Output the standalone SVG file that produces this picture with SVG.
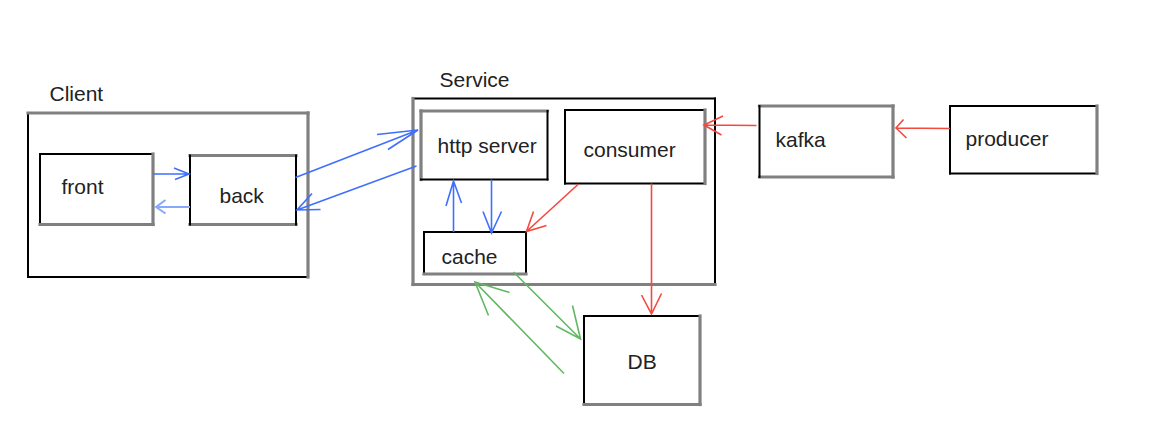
<svg xmlns="http://www.w3.org/2000/svg" width="1162" height="448" viewBox="0 0 1162 448">
<style>
.k{stroke:#000;stroke-width:2;fill:none;stroke-linecap:square}
.g{stroke:#808080;stroke-width:3.2;fill:none;stroke-linecap:square}
text{font-family:"Liberation Sans",Arial,sans-serif;font-size:21px;fill:#222}
.b{stroke:#3f6fff;stroke-width:1.6;fill:none}
.bl{stroke:#88a8ff;stroke-width:2;fill:none}
.r{stroke:#f5483f;stroke-width:1.6;fill:none}
.gr{stroke:#62b862;stroke-width:1.6;fill:none}
</style>
<rect width="1162" height="448" fill="#fff"/>
<g id="client">
<line class="k" x1="28" y1="113" x2="28" y2="277"/>
<line class="k" x1="28" y1="277" x2="308" y2="277"/>
<line class="g" x1="28" y1="113" x2="308" y2="113"/>
<line class="g" x1="308" y1="113" x2="308" y2="277"/>
<text x="49.5" y="100.5">Client</text>
</g>
<g id="front">
<line class="k" x1="40" y1="154" x2="153" y2="154"/>
<line class="k" x1="40" y1="154" x2="40" y2="224.5"/>
<line class="g" x1="153" y1="154" x2="153" y2="224.5"/>
<line class="g" x1="40" y1="224.5" x2="153" y2="224.5"/>
<text x="61.5" y="194">front</text>
</g>
<g id="back">
<line class="g" x1="190" y1="155.5" x2="296" y2="155.5"/>
<line class="g" x1="190" y1="224.5" x2="296" y2="224.5"/>
<line class="k" x1="190" y1="155.5" x2="190" y2="224.5"/>
<line class="k" x1="296" y1="155.5" x2="296" y2="224.5"/>
<text x="219.5" y="202.5">back</text>
</g>
<g id="service">
<line class="k" x1="413" y1="98.5" x2="715" y2="98.5"/>
<line class="k" x1="715" y1="98.5" x2="715" y2="284.5"/>
<line class="g" x1="413" y1="98.5" x2="413" y2="284.5"/>
<line class="g" x1="413" y1="284.5" x2="715" y2="284.5"/>
<text x="439.5" y="86.5">Service</text>
</g>
<g id="http-server">
<line class="g" x1="421" y1="111" x2="547.5" y2="111"/>
<line class="g" x1="421" y1="111" x2="421" y2="179.5"/>
<line class="k" x1="547.5" y1="111" x2="547.5" y2="179.5"/>
<line class="k" x1="421" y1="179.5" x2="547.5" y2="179.5"/>
<text x="437.5" y="152.5">http server</text>
</g>
<g id="consumer">
<line class="k" x1="565" y1="110" x2="705" y2="110"/>
<line class="k" x1="565" y1="110" x2="565" y2="183.5"/>
<line class="k" x1="565" y1="183.5" x2="705" y2="183.5"/>
<line class="g" x1="705" y1="110" x2="705" y2="183.5"/>
<text x="583.5" y="156.5">consumer</text>
</g>
<g id="cache">
<line class="k" x1="424" y1="232" x2="526" y2="232"/>
<line class="k" x1="424" y1="232" x2="424" y2="274"/>
<line class="k" x1="526" y1="232" x2="526" y2="274"/>
<line class="g" x1="424" y1="274" x2="526" y2="274"/>
<text x="441.5" y="264">cache</text>
</g>
<g id="db">
<line class="k" x1="584" y1="316" x2="700" y2="316"/>
<line class="k" x1="584" y1="316" x2="584" y2="404.5"/>
<line class="g" x1="700" y1="316" x2="700" y2="404.5"/>
<line class="g" x1="584" y1="404.5" x2="700" y2="404.5"/>
<text x="627.5" y="368.5">DB</text>
</g>
<g id="kafka">
<line class="g" x1="759.5" y1="106" x2="893" y2="106"/>
<line class="g" x1="893" y1="106" x2="893" y2="177"/>
<line class="g" x1="759.5" y1="177" x2="893" y2="177"/>
<line class="k" x1="759.5" y1="106" x2="759.5" y2="177"/>
<text x="775.5" y="146.5">kafka</text>
</g>
<g id="producer">
<line class="k" x1="950" y1="106" x2="1097" y2="106"/>
<line class="k" x1="950" y1="106" x2="950" y2="173.5"/>
<line class="k" x1="950" y1="173.5" x2="1097" y2="173.5"/>
<line class="g" x1="1097" y1="106" x2="1097" y2="173.5"/>
<text x="965.5" y="145.5">producer</text>
</g>
<g id="connectors">
<path class="b" d="M153 174 H189 M174 168 L189 174 L175 179.5"/>
<path class="bl" d="M190 207 H156 M165.5 200 L156 207 L165.5 213.5"/>
<path class="b" d="M295.5 177.5 L418 130 M377 134.5 L418 130 L388 149.5"/>
<path class="b" d="M416.5 166 L297 210 M312 193.5 L297 210 L320.5 209.5"/>
<path class="b" d="M491.5 179.5 V233 M483 211.5 L491.5 233 L501.5 211.5"/>
<path class="b" d="M453.5 232 V181 M446 206 L453.5 181 L461.5 203"/>
<path class="r" d="M578.5 184 L526.5 231.5 M533.5 211.5 L526.5 231.5 L546.5 225.5"/>
<path class="r" d="M651.5 183.5 V314 M641.5 295 L651.5 314 L661.5 293.5"/>
<path class="r" d="M756.5 125.5 L704 125 M723 116 L704 125 L721.5 135"/>
<path class="r" d="M950 128.5 L896 128 M903.5 119.5 L896 128 L906.5 138"/>
<path class="gr" d="M513.5 272 L580.5 339 M572.5 305.5 L580.5 339 L556 326"/>
<path class="gr" d="M564 373.5 L475 282 M509.5 292.5 L475 282 L488.5 315.5"/>
</g>
</svg>
